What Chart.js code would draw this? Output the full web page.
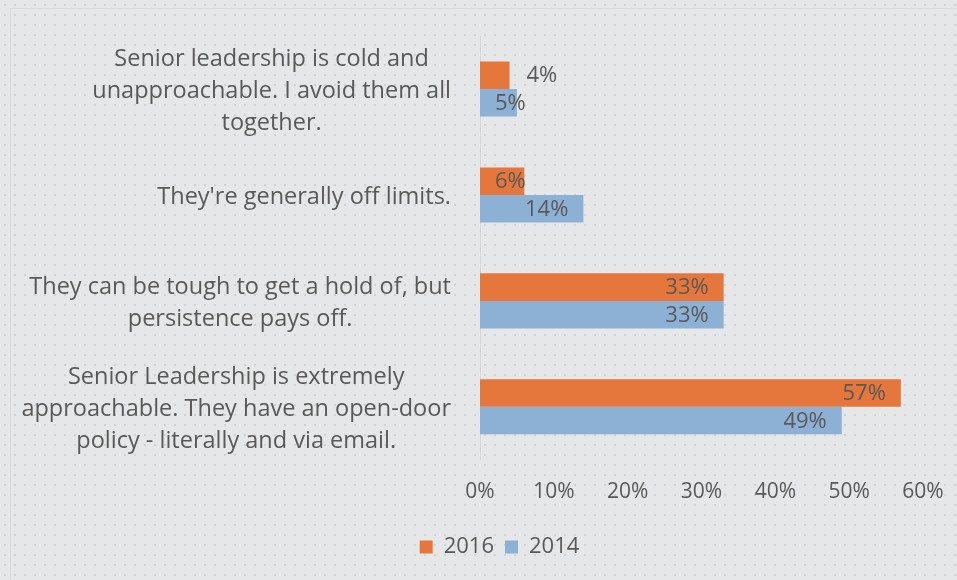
<!DOCTYPE html>
<html>
<head>
<meta charset="utf-8">
<script src="https://cdn.jsdelivr.net/npm/chart.js@4/dist/chart.umd.min.js"></script>
<style>
  html, body { margin: 0; padding: 0; }
  body {
    width: 957px; height: 580px; overflow: hidden;
    background-color: #e6e7e8;
    background-image: radial-gradient(circle, #d0d1d3 1.2px, transparent 1.6px);
    background-size: 10px 10px;
  }
  .wrap { position: absolute; left: 0; top: 0; width: 957px; height: 580px; }
  .frame { position: absolute; left: 10px; top: 8px; right: -2px; bottom: -2px; border: 1px solid #d9dadb; }
</style>
</head>
<body>
<div class="frame"></div>
<div class="wrap"><canvas id="barChart" width="957" height="580"></canvas></div>
<script>
const categories = [
  ['Senior leadership is cold and', 'unapproachable. I avoid them all', 'together.'],
  ["They're generally off limits."],
  ['They can be tough to get a hold of, but', 'persistence pays off.'],
  ['Senior Leadership is extremely', 'approachable. They have an open-door', 'policy - literally and via email.']
];
const values2016 = [4, 6, 33, 57];
const values2014 = [5, 14, 33, 49];
const tickLabels = ['0%', '10%', '20%', '30%', '40%', '50%', '60%'];

const FONT = "'Open Sans', 'Noto Sans', sans-serif";
const TEXT = '#595959';

// category labels: block right aligned to axis, lines centred inside block
const categoryLabels = {
  id: 'categoryLabels',
  afterDraw(chart) {
    const ctx = chart.ctx;
    const yScale = chart.scales.y;
    const right = chart.chartArea.left - 29;
    const lineH = 32;
    ctx.save();
    ctx.font = '23.5px ' + FONT;
    ctx.fillStyle = TEXT;
    ctx.textAlign = 'center';
    ctx.textBaseline = 'middle';
    categories.forEach((lines, i) => {
      const y = yScale.getPixelForTick(i) + 2;
      const widest = Math.max(...lines.map(l => ctx.measureText(l).width));
      const cx = right - widest / 2;
      const top = y - (lines.length - 1) * lineH / 2;
      lines.forEach((l, j) => ctx.fillText(l, cx, top + j * lineH));
    });
    ctx.restore();
  }
};

const valueLabels = {
  id: 'valueLabels',
  afterDatasetsDraw(chart) {
    const ctx = chart.ctx;
    ctx.save();
    ctx.font = '22px ' + FONT;
    ctx.fillStyle = TEXT;
    ctx.textBaseline = 'middle';
    chart.data.datasets.forEach((ds, di) => {
      chart.getDatasetMeta(di).data.forEach((bar, i) => {
        const txt = ds.data[i] + '%';
        const w = ctx.measureText(txt).width;
        const barW = bar.x - bar.base;
        if (barW < 30) {
          ctx.textAlign = 'left';
          ctx.fillText(txt, bar.x + 17, bar.y + 1);
        } else {
          ctx.textAlign = 'right';
          ctx.fillText(txt, Math.max(bar.x - 15, bar.base + 15 + w), bar.y + 1);
        }
      });
    });
    ctx.restore();
  }
};

new Chart(document.getElementById('barChart').getContext('2d'), {
  type: 'bar',
  data: {
    labels: categories,
    datasets: [
      { label: '2016', data: values2016, backgroundColor: '#e5773d' },
      { label: '2014', data: values2014, backgroundColor: '#8db1d5' }
    ]
  },
  options: {
    indexAxis: 'y',
    responsive: false,
    animation: false,
    barPercentage: 1,
    categoryPercentage: 0.52,
    layout: { padding: { left: 76, right: 34, top: 36, bottom: 12 } },
    scales: {
      x: {
        min: 0, max: 60,
        grid: { display: false, drawTicks: false },
        border: { display: false },
        ticks: {
          stepSize: 10,
          padding: 20,
          color: TEXT,
          font: { size: 21, family: FONT },
          callback: (v, i) => tickLabels[i]
        },
        afterFit: (s) => { s.paddingLeft = 0; s.paddingRight = 0; }
      },
      y: {
        grid: { display: false, drawTicks: false },
        border: { display: true, color: '#d4d5d6' },
        ticks: { display: false },
        afterFit: (s) => { s.width = 404; }
      }
    },
    plugins: {
      legend: {
        position: 'bottom',
        labels: {
          color: TEXT,
          boxWidth: 13, boxHeight: 13,
          padding: 11,
          font: { size: 22, family: FONT }
        }
      },
      tooltip: { enabled: false }
    }
  },
  plugins: [categoryLabels, valueLabels]
});
</script>
</body>
</html>
